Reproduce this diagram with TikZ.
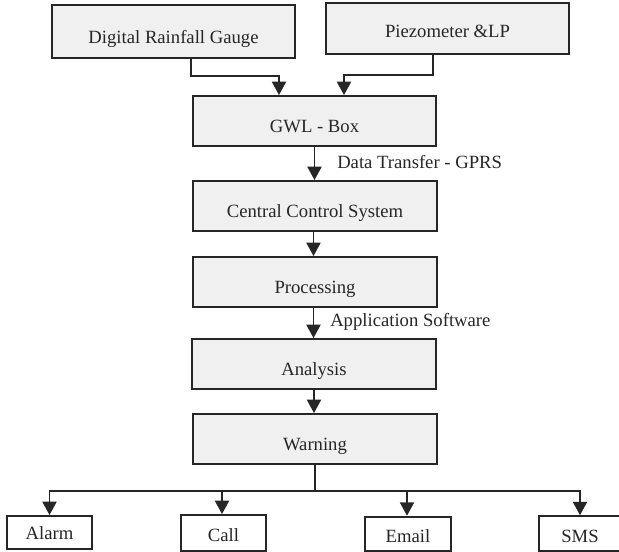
\documentclass[tikz,border=0pt]{standalone}
\usepackage{fontspec}
\setmainfont{Liberation Serif}
\usetikzlibrary{arrows.meta,calc}
\definecolor{boxfill}{HTML}{F0F0F0}
\definecolor{ink}{HTML}{262626}
\tikzset{
  bigbox/.style={draw=ink, fill=boxfill, line width=1.4pt, inner sep=0pt,
    minimum width=182.5pt, minimum height=37.5pt, font=\fontsize{14}{16}\selectfont,
    text=ink, text height=18pt, text depth=0pt},
  smallbox/.style={draw=ink, fill=white, line width=1.4pt, inner sep=0pt,
    minimum width=64pt, minimum height=26pt, font=\fontsize{14}{16}\selectfont,
    text=ink, text height=13.5pt, text depth=0pt},
  conn/.style={draw=ink, line width=1.4pt},
  arr/.style={conn, -{Triangle[width=10.5pt,length=10pt]}},
  lbl/.style={font=\fontsize{14}{16}\selectfont, text=ink, inner sep=0pt}
}
\begin{document}
\begin{tikzpicture}[x=0.75pt, y=-0.75pt]
\useasboundingbox (0,0) rectangle (619,552);
% top sources
\node[bigbox, minimum height=39.75pt] (drg) at (173.5,31.5) {Digital Rainfall Gauge};
\node[bigbox, minimum height=38.25pt, text height=13.2pt] (pz) at (447.5,28.5) {Piezometer \&LP};
% main column
\node[bigbox] (gwl) at (314.5,121) {GWL - Box};
\node[bigbox, minimum width=183pt] (ccs) at (315,206) {Central Control System};
\node[bigbox, minimum width=183pt] (proc) at (315,282) {Processing};
\node[bigbox, minimum width=183pt] (ana) at (314,364) {Analysis};
\node[bigbox, minimum width=183pt] (warn) at (315,439) {Warning};
% outputs
\node[smallbox, minimum height=24.75pt, text height=11pt] (alarm) at (49.5,532.5) {Alarm};
\node[smallbox, minimum height=27pt] (call) at (223.5,533) {Call};
\node[smallbox, minimum width=64.5pt] (email) at (408,534) {Email};
\node[smallbox, minimum width=61.5pt] (sms) at (580,533.5) {SMS};
% labels
\node[lbl, anchor=base west] (dt) at (337,168.5) {Data Transfer - GPRS};
\node[lbl, anchor=base west] (app) at (330,327) {Application Software};
% connectors
\draw[arr] ($(drg.south)+(17.5,0)$) |- ($(gwl.north)+(-35.5,-19)$) -- ($(gwl.north)+(-35.5,0)$);
\draw[arr] ($(pz.south)+(-14.5,0)$) |- ($(gwl.north)+(29.5,-20)$) -- ($(gwl.north)+(29.5,0)$);
\draw[arr] (gwl.south) -- (gwl.south |- ccs.north);
\draw[arr] ($(ccs.south)+(-1.5,0)$) -- ($(ccs.south |- proc.north)+(-1.5,0)$);
\draw[arr] ($(proc.south)+(-1.5,0)$) -- ($(proc.south |- ana.north)+(-1.5,0)$);
\draw[arr] (ana.south) -- (ana.south |- warn.north);
\coordinate (bus) at ($(warn.south)+(0,26)$);
\draw[conn] (warn.south) -- (bus);
\draw[arr] (bus) -| (alarm.north);
\draw[arr] (bus) -| ($(call.north)+(-1.5,0)$);
\draw[arr] (bus) -| ($(email.north)+(-1,0)$);
\draw[arr] (bus) -| (sms.north);
\end{tikzpicture}
\end{document}
